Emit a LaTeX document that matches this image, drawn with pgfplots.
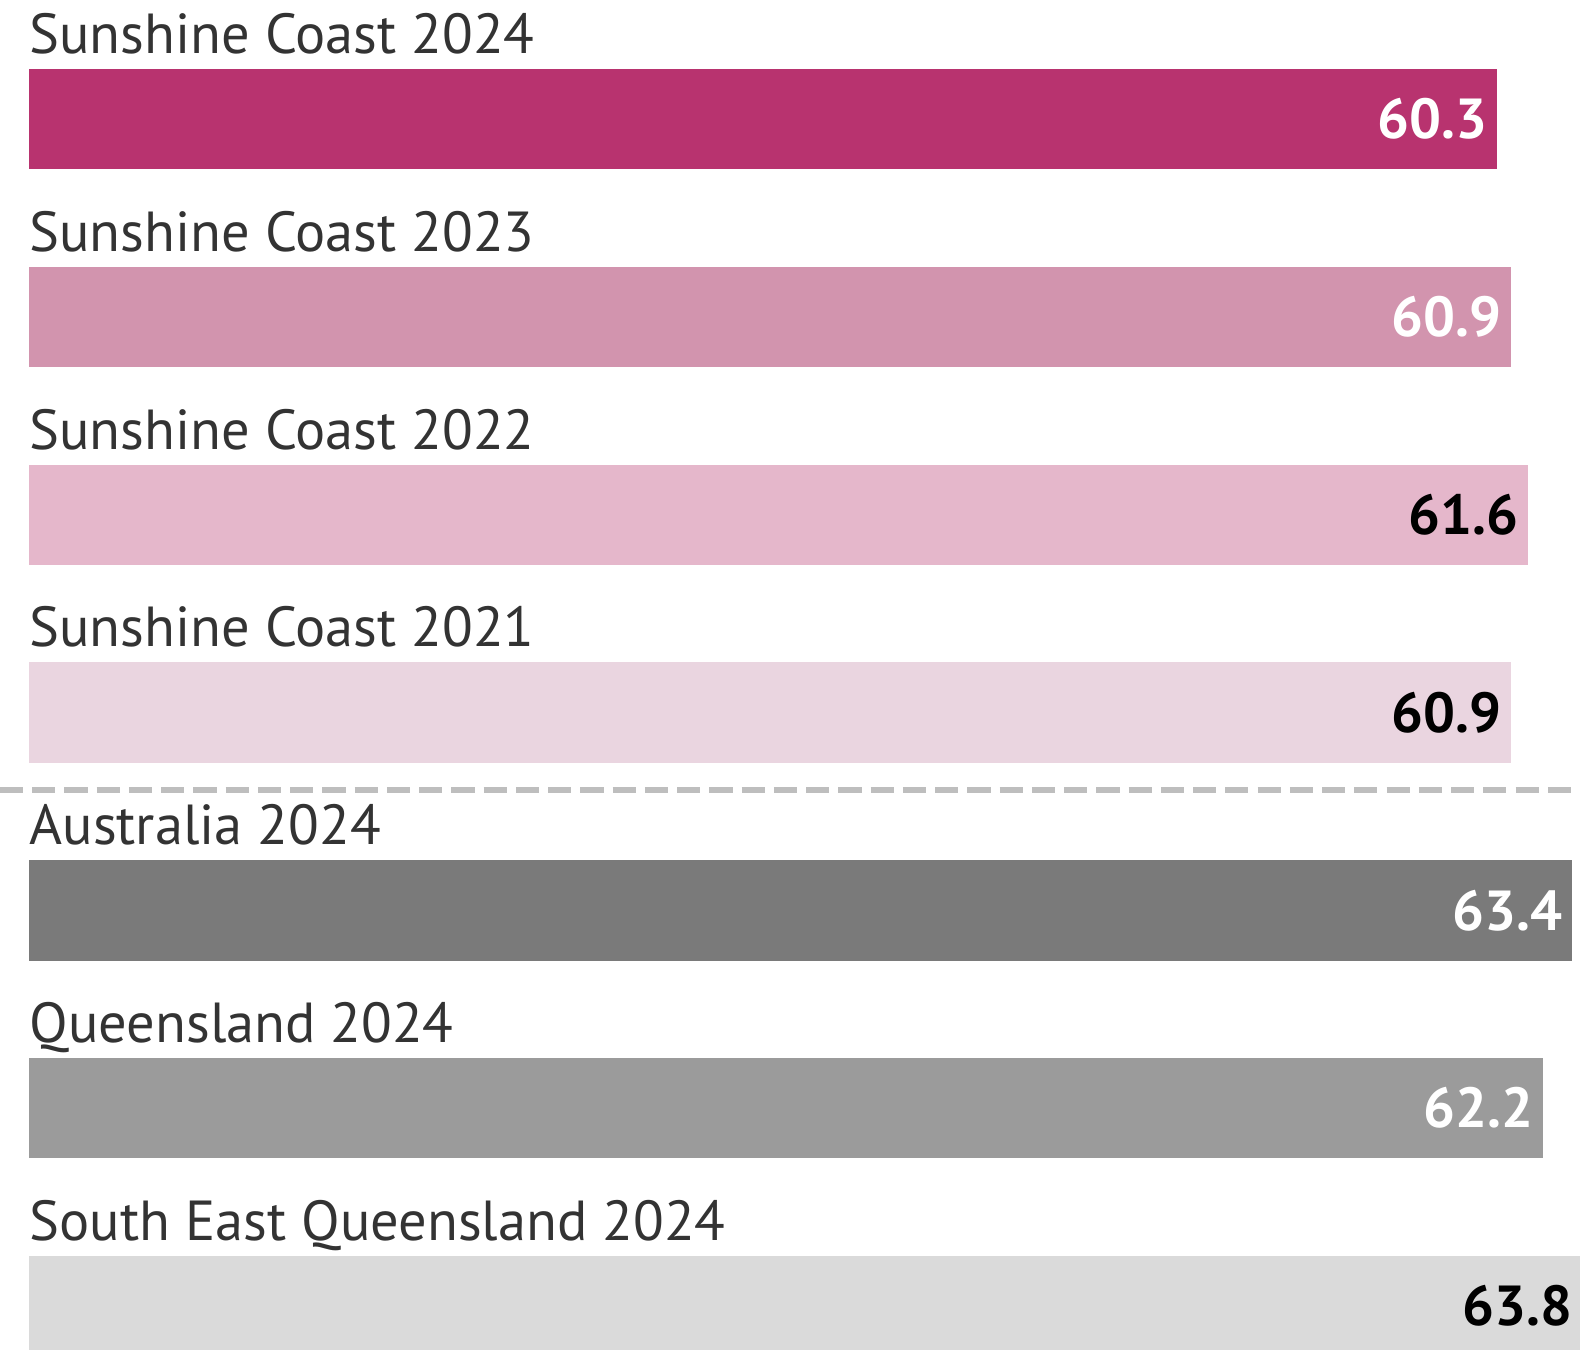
\documentclass[border=0pt]{standalone}
\usepackage{fontspec}
\setmainfont{PT Sans}
\usepackage{pgfplots}
\pgfplotsset{compat=1.18}
\definecolor{c1}{HTML}{B8336F}
\definecolor{c2}{HTML}{D294AE}
\definecolor{c3}{HTML}{E5B7CB}
\definecolor{c4}{HTML}{EAD5E0}
\definecolor{c5}{HTML}{7A7A7A}
\definecolor{c6}{HTML}{9B9B9B}
\definecolor{c7}{HTML}{DADADA}
\definecolor{lbl}{HTML}{333333}
\definecolor{sep}{HTML}{BEBEBE}
\newcommand{\lblfont}{\fontsize{28}{31}\selectfont}
\begin{document}
\begin{tikzpicture}
\begin{axis}[
  width=811.41pt, height=680pt, scale only axis,
  xmin=-1.2, xmax=66, ymin=0, ymax=1360, y dir=reverse,
  axis lines=none, ticks=none, clip=false,
  point meta=x,
  barstyle/.style={xbar, bar shift=0pt, bar width=100, draw=none,
    nodes near coords={\pgfmathprintnumber[fixed,fixed zerofill,precision=1,assume math mode=true]{\pgfplotspointmeta}},
    every node near coord/.append style={anchor=east, xshift=-4.5pt, inner sep=0pt, font=\lblfont\bfseries}},
]
\addplot[barstyle, fill=c1, nodes near coords style={text=white}] coordinates {(60.3,118)};
\addplot[barstyle, fill=c2, nodes near coords style={text=white}] coordinates {(60.9,314.5)};
\addplot[barstyle, fill=c3, nodes near coords style={text=black}] coordinates {(61.6,511)};
\addplot[barstyle, fill=c4, nodes near coords style={text=black}] coordinates {(60.9,707)};
\addplot[barstyle, fill=c5, nodes near coords style={text=white}] coordinates {(63.4,903.5)};
\addplot[barstyle, fill=c6, nodes near coords style={text=white}] coordinates {(62.2,1099.5)};
\addplot[barstyle, fill=c7, nodes near coords style={text=black}] coordinates {(63.8,1296)};
\addplot[sep, line width=2.5pt, dash pattern=on 11.5pt off 4.5pt, no marks] coordinates {(-1.2,784) (63.73,784)};
\begin{scope}[every node/.style={anchor=base west, inner sep=0pt, font=\lblfont, text=lbl}]
\node at (axis cs:0,53) {Sunshine Coast 2024};
\node at (axis cs:0,249.5) {Sunshine Coast 2023};
\node at (axis cs:0,446) {Sunshine Coast 2022};
\node at (axis cs:0,642) {Sunshine Coast 2021};
\node at (axis cs:0,838.5) {Australia 2024};
\node at (axis cs:0,1034.5) {Queensland 2024};
\node at (axis cs:0,1231) {South East Queensland 2024};
\end{scope}
\coordinate (A) at (axis cs:-1.2,1339);
\coordinate (B) at (axis cs:63.73,0);
\end{axis}
\pgfresetboundingbox
\path (A) rectangle (B);
\end{tikzpicture}
\end{document}
